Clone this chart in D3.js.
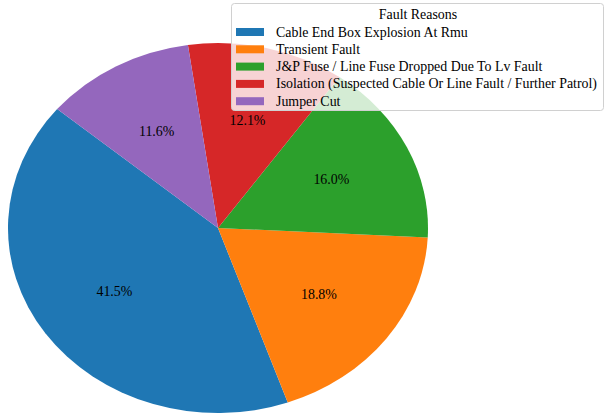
<!DOCTYPE html>
<html>
<head>
<meta charset="utf-8">
<script src="https://cdn.jsdelivr.net/npm/d3@7"></script>
<style>
  html, body { margin: 0; padding: 0; background: #fff; }
  svg { display: block; }
  svg text { font-family: "Liberation Serif", "Times New Roman", serif; font-size: 13.9px; fill: #000; }
</style>
</head>
<body>
<svg id="chart" width="606" height="414"></svg>
<script>
// Fault reasons and their shares (%)
const reasons = [
  "Cable End Box Explosion At Rmu",
  "Transient Fault",
  "J&P Fuse / Line Fuse Dropped Due To Lv Fault",
  "Isolation (Suspected Cable Or Line Fault / Further Patrol)",
  "Jumper Cut"
];
const shares = [41.5, 18.8, 16.0, 12.1, 11.6];
const colors = ["#1f77b4", "#ff7f0e", "#2ca02c", "#d62728", "#9467bd"];
const legendTitle = "Fault Reasons";

const svg = d3.select("#chart");

// Pie geometry (stretched horizontally)
const cx = 218, cy = 228, rx = 210, ry = 185;
const startDeg = 140; // counter-clockwise from 3 o'clock

const toRad = d => d * Math.PI / 180;
const pie = d3.pie()
  .sort(null)
  .value(d => d)
  .startAngle(toRad(90 - startDeg))
  .endAngle(toRad(90 - startDeg - 360));

const arcs = pie(shares);
const arc = d3.arc().innerRadius(0).outerRadius(rx);

const g = svg.append("g")
  .attr("transform", `translate(${cx},${cy}) scale(1,${ry / rx})`);

g.selectAll("path")
  .data(arcs)
  .join("path")
  .attr("d", arc)
  .attr("fill", (d, i) => colors[i]);

// Percentage labels at 60% of the radius
svg.append("g")
  .selectAll("text")
  .data(arcs)
  .join("text")
  .attr("x", d => cx + 0.6 * rx * Math.sin((d.startAngle + d.endAngle) / 2))
  .attr("y", d => cy - 0.6 * ry * Math.cos((d.startAngle + d.endAngle) / 2))
  .attr("text-anchor", "middle")
  .attr("dominant-baseline", "central")
  .text(d => d.data.toFixed(1) + "%");

// Legend
const lg = svg.append("g");
lg.append("rect")
  .attr("x", 231.5).attr("y", 3.5)
  .attr("width", 372).attr("height", 107)
  .attr("rx", 3).attr("ry", 3)
  .attr("fill", "#fff").attr("fill-opacity", 0.8)
  .attr("stroke", "#d0d0d0").attr("stroke-width", 1);

lg.append("text")
  .attr("x", 418).attr("y", 14.5)
  .attr("text-anchor", "middle")
  .attr("dominant-baseline", "central")
  .text(legendTitle);

const rowY = i => 32 + i * 17.3;
const rows = lg.selectAll("g.row")
  .data(reasons)
  .join("g")
  .attr("class", "row");

rows.append("rect")
  .attr("x", 236).attr("y", (d, i) => rowY(i) - 4)
  .attr("width", 28).attr("height", 8)
  .attr("fill", (d, i) => colors[i]);

rows.append("text")
  .attr("x", 276).attr("y", (d, i) => rowY(i))
  .attr("dominant-baseline", "central")
  .text(d => d);
</script>
</body>
</html>
